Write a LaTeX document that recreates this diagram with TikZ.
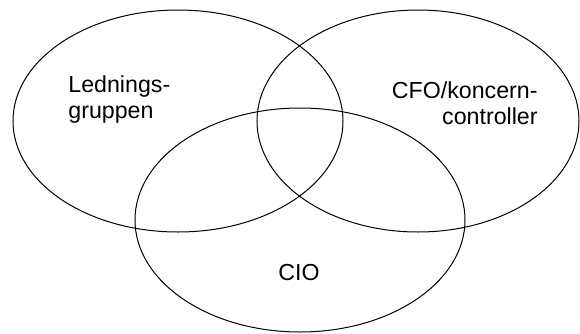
\documentclass[tikz,border=0pt]{standalone}
\usepackage{fontspec}
\setmainfont{Liberation Sans}
\usetikzlibrary{shapes.geometric,positioning}

\begin{document}
\begin{tikzpicture}[x=0.5pt, y=-0.5pt,
        group/.style={ellipse, draw, line width=0.5pt, inner sep=0pt, minimum width=165pt, minimum height=111pt},
        label/.style={inner sep=0pt, font=\fontsize{11.6pt}{13pt}\selectfont}]

    \useasboundingbox (0,0) rectangle (580,333);

    % the three groups
    \node[group] (ledning) at (178,121) {};
    \node[group, minimum width=161pt] (cfo) at (418,121) {};
    \node[group, minimum height=112pt] (cio) at (300,220) {};

    % texts
    \node[label, align=left, anchor=base west] (ledtext) at (68,118) {Lednings-\\gruppen};
    \node[label, align=right, anchor=base east] (cfotext) at (538,124) {CFO/koncern-\\controller};
    \node[label, anchor=base] (ciotext) at (299,280) {CIO};
\end{tikzpicture}
\end{document}
